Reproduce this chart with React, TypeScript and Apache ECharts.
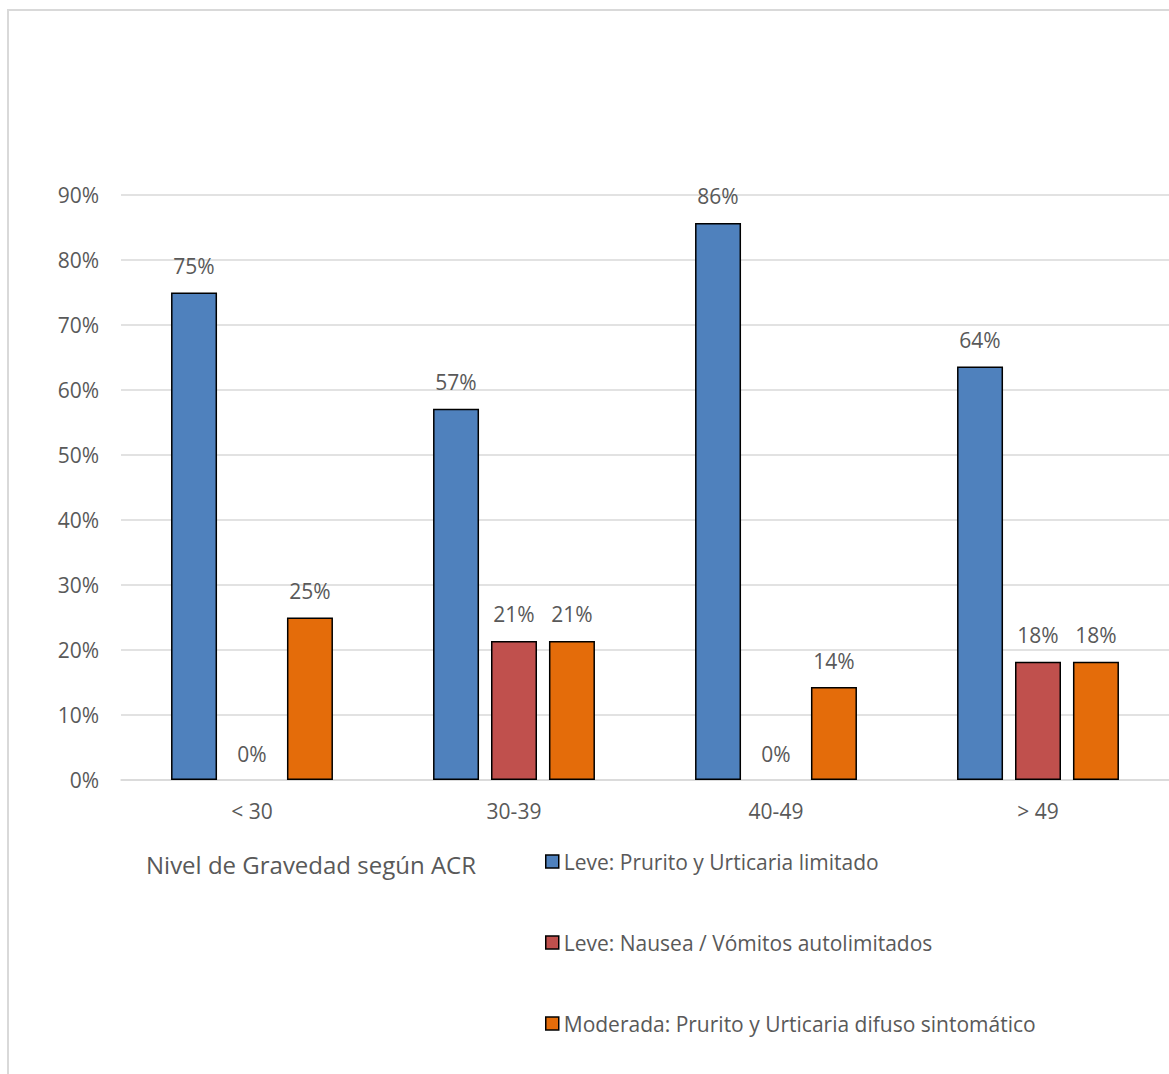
import React, { useEffect, useRef } from "react";
import * as echarts from "echarts";

const categories = ["< 30", "30-39", "40-49", "> 49"];
const leveUrticaria = [75, 57.1, 85.7, 63.6];
const leveNausea = [0, 21.4, 0, 18.2];
const moderada = [25, 21.4, 14.3, 18.2];
const seriesNames = [
  "Leve: Prurito y Urticaria limitado",
  "Leve: Nausea / Vómitos autolimitados",
  "Moderada: Prurito y Urticaria difuso sintomático",
];
const colors = ["#4F81BD", "#C0504D", "#E46C0A"];
const legendTitle = "Nivel de Gravedad según ACR";

const FONT = "'Open Sans', 'Noto Sans', sans-serif";
const TEXT = "#595959";

export default function App() {
  const ref = useRef<HTMLDivElement>(null);
  useEffect(() => {
    if (!ref.current) return;
    const chart = echarts.init(ref.current, null, { renderer: "svg" });
    const mk = (name: string, data: number[], color: string) => ({
      name,
      type: "bar",
      data: data.map((v) =>
        v === 0 ? { value: v, itemStyle: { borderWidth: 0 } } : v
      ),
      barWidth: 46,
      barGap: "26%",
      itemStyle: { color, borderColor: "#000", borderWidth: 1.5 },
      label: {
        show: true,
        position: "top",
        distance: 16,
        color: TEXT,
        fontFamily: FONT,
        fontSize: 21,
        formatter: (p: any) => Math.round(p.value) + "%",
      },
    });
    chart.setOption({
      animation: false,
      backgroundColor: "#fff",
      textStyle: { fontFamily: FONT },
      grid: { left: 121, right: 0, top: 195, bottom: 294, containLabel: false },
      xAxis: {
        type: "category",
        data: categories,
        axisLine: { lineStyle: { color: "#d9d9d9", width: 1.5 } },
        axisTick: { show: false },
        axisLabel: { color: TEXT, fontFamily: FONT, fontSize: 21, margin: 20 },
      },
      yAxis: {
        type: "value",
        min: 0,
        max: 90,
        interval: 10,
        axisLine: { show: false },
        axisTick: { show: false },
        splitLine: { lineStyle: { color: "#d9d9d9", width: 1.5 } },
        axisLabel: {
          color: TEXT,
          fontFamily: FONT,
          fontSize: 21,
          margin: 22,
          formatter: "{value}%",
        },
      },
      legend: {
        orient: "vertical",
        left: 540,
        top: 846,
        itemWidth: 13,
        itemHeight: 13,
        itemGap: 60,
        icon: "rect",
        textStyle: { color: TEXT, fontFamily: FONT, fontSize: 21 },
        itemStyle: { borderColor: "#000", borderWidth: 1.5 },
        data: seriesNames,
      },
      graphic: [
        {
          type: "rect",
          shape: { x: 8, y: 10, width: 1300, height: 1200 },
          style: { fill: "none", stroke: "#d9d9d9", lineWidth: 2 },
          silent: true,
        },
        {
          type: "text",
          left: 146,
          top: 852,
          style: { text: legendTitle, fill: TEXT, font: `24px ${FONT}` },
        },
      ],
      series: [
        mk(seriesNames[0], leveUrticaria, colors[0]),
        mk(seriesNames[1], leveNausea, colors[1]),
        mk(seriesNames[2], moderada, colors[2]),
      ],
    });
    return () => chart.dispose();
  }, []);
  return (
    <div
      ref={ref}
      style={{ position: "absolute", left: 0, top: 0, width: 1169, height: 1074 }}
    />
  );
}
